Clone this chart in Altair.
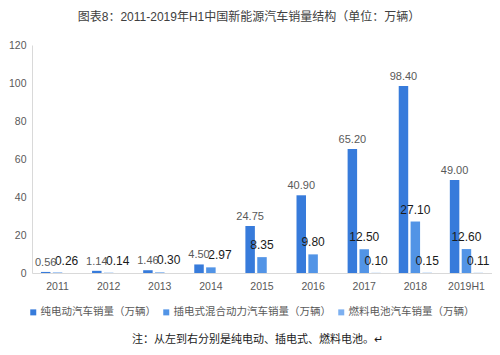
import altair as alt
import pandas as pd

years = ["2011", "2012", "2013", "2014", "2015", "2016", "2017", "2018", "2019H1"]
series = ["纯电动汽车销量（万辆）", "插电式混合动力汽车销量（万辆）", "燃料电池汽车销量（万辆）"]
bev = [0.56, 1.14, 1.46, 4.50, 24.75, 40.90, 65.20, 98.40, 49.00]
phev = [0.26, 0.14, 0.30, 2.97, 8.35, 9.80, 12.50, 27.10, 12.60]
fcev = [None, None, None, None, None, None, 0.10, 0.15, 0.11]
colors = ["#377BDB", "#5294E6", "#7DB0F0"]
note = "注：从左到右分别是纯电动、插电式、燃料电池。↵"

rows = []
for vals, s in zip([bev, phev, fcev], series):
    for y, v in zip(years, vals):
        rows.append({"year": y, "series": s, "value": v})
df = pd.DataFrame(rows)

FONT = "Liberation Sans, Noto Sans CJK SC"

base = alt.Chart(df).encode(
    x=alt.X("year:N", sort=years, title=None,
            scale=alt.Scale(paddingInner=0.35, paddingOuter=0.175),
            axis=alt.Axis(labelAngle=0, labelFont=FONT, labelFontSize=10.5,
                          labelColor="#595959", ticks=False, domainColor="#d9d9d9",
                          labelPadding=8)),
    xOffset=alt.XOffset("series:N", sort=series,
                        scale=alt.Scale(paddingInner=0.2, paddingOuter=0)),
    y=alt.Y("value:Q", title=None,
            scale=alt.Scale(domain=[0, 120]),
            axis=alt.Axis(values=[0, 20, 40, 60, 80, 100, 120], grid=False, ticks=False,
                          domainColor="#d9d9d9", labelFont=FONT, labelFontSize=10.5,
                          labelColor="#595959", labelPadding=6)),
)

bars = base.mark_bar().encode(
    color=alt.Color("series:N", sort=series,
                    scale=alt.Scale(domain=series, range=colors),
                    legend=alt.Legend(title=None, orient="none", direction="horizontal",
                                      legendX=-4, legendY=262, symbolType="square",
                                      symbolSize=36, symbolStrokeWidth=0,
                                      labelFont=FONT, labelFontSize=10.5,
                                      labelColor="#595959", labelLimit=300,
                                      labelOffset=2, columnPadding=5))
).transform_filter("isValid(datum.value)")

lab1 = base.mark_text(baseline="bottom", dy=-4, font=FONT, fontSize=11,
                      color="#595959").encode(
    text=alt.Text("value:Q", format=".2f")
).transform_filter(alt.datum.series == series[0])

lab2 = base.mark_text(baseline="bottom", dy=-5, font=FONT, fontSize=12,
                      color="#1a1a1a").encode(
    text=alt.Text("value:Q", format=".2f")
).transform_filter(
    f"(datum.series == '{series[1]}' && datum.value >= 5) || (datum.series == '{series[2]}' && isValid(datum.value))"
)

lab2s = base.mark_text(baseline="bottom", dy=-5, dx=9, font=FONT, fontSize=12,
                       color="#1a1a1a").encode(
    text=alt.Text("value:Q", format=".2f")
).transform_filter(f"datum.series == '{series[1]}' && datum.value < 5")

note_df = pd.DataFrame({"t": [note]})
note_mark = alt.Chart(note_df).mark_text(align="left", baseline="middle", font=FONT,
                                         fontSize=11, color="#1a1a1a").encode(
    text="t:N", x=alt.value(100), y=alt.value(295)
)

chart = alt.layer(bars, lab1, lab2, lab2s, note_mark).properties(
    width=460, height=228,
    title=alt.Title("图表8：2011-2019年H1中国新能源汽车销量结构（单位：万辆）",
                    font=FONT, fontSize=12, fontWeight="normal", color="#404040",
                    anchor="middle", frame="group", dx=-13, offset=16),
    autosize=alt.AutoSizeParams(type="none"),
    padding={"left": 24, "top": 37, "right": 0, "bottom": 74},
).configure_view(stroke=None)

chart.save("out.html", embed_options={"renderer": "svg", "actions": False})
